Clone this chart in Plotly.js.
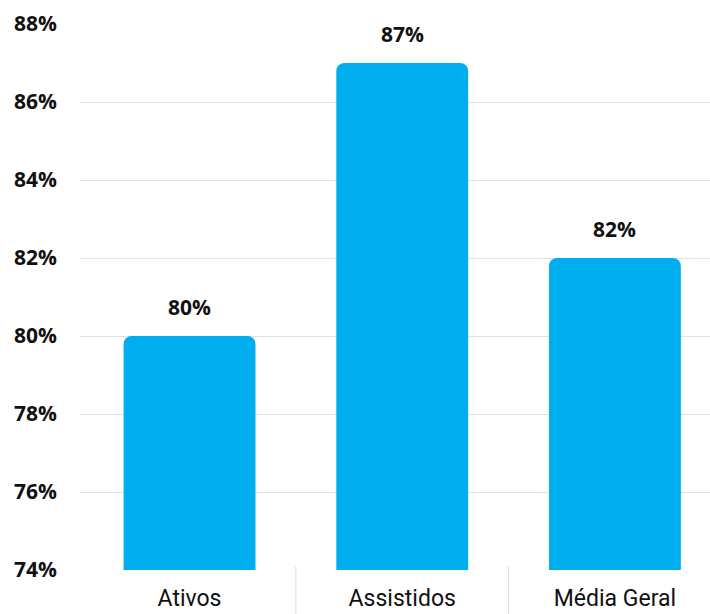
<!DOCTYPE html>
<html>
<head>
<meta charset="utf-8">
<script src="https://cdn.plot.ly/plotly-3.0.1.min.js"></script>
<style>html,body{margin:0;padding:0;background:#fff;}#chart{width:710px;height:614px;}</style>
</head>
<body>
<div id="chart"></div>
<script>
const categories = ["Ativos", "Assistidos", "Média Geral"];
const values = [80, 87, 82];
const yTicks = [74, 76, 78, 80, 82, 84, 86, 88];

const barColor = "#00AEEF";
const boldFam = "'Open Sans', Roboto, sans-serif";
const catFam = "Roboto, 'Open Sans', sans-serif";

const trace = {
  type: "bar",
  x: categories,
  y: values,
  marker: {color: barColor},
  width: 0.62,
  hoverinfo: "skip",
  cliponaxis: true
};

const annotations = categories.map((c, i) => ({
  x: c, y: values[i], xref: "x", yref: "y",
  text: "<b>" + values[i] + "%</b>",
  showarrow: false, yanchor: "bottom", yshift: 13,
  font: {family: boldFam, size: 21, color: "#111"}
}));

const shapes = [0.5, 1.5].map(p => ({
  type: "line", xref: "x", yref: "paper",
  x0: p, x1: p, y0: -0.09, y1: 0.007,
  line: {color: "#dcdcdc", width: 1}
}));

const layout = {
  width: 710, height: 614,
  margin: {l: 80, r: 0, t: 24, b: 44},
  paper_bgcolor: "#fff", plot_bgcolor: "#fff",
  barcornerradius: 8,
  showlegend: false,
  xaxis: {
    type: "category",
    range: [-0.515, 2.447],
    showgrid: false, zeroline: false, showline: false,
    ticks: "", ticklabelstandoff: 12,
    tickfont: {family: catFam, size: 23, color: "#111"}
  },
  yaxis: {
    range: [74, 88],
    tickvals: yTicks,
    ticktext: yTicks.map(v => "<b>" + v + "%</b>"),
    showgrid: true, gridcolor: "#e2e2e2", gridwidth: 1,
    zeroline: false, showline: false,
    ticks: "", ticklabelstandoff: 22,
    tickfont: {family: boldFam, size: 21, color: "#111"}
  },
  annotations: annotations,
  shapes: shapes
};

Plotly.newPlot("chart", [trace], layout, {displayModeBar: false, staticPlot: true});
</script>
</body>
</html>
